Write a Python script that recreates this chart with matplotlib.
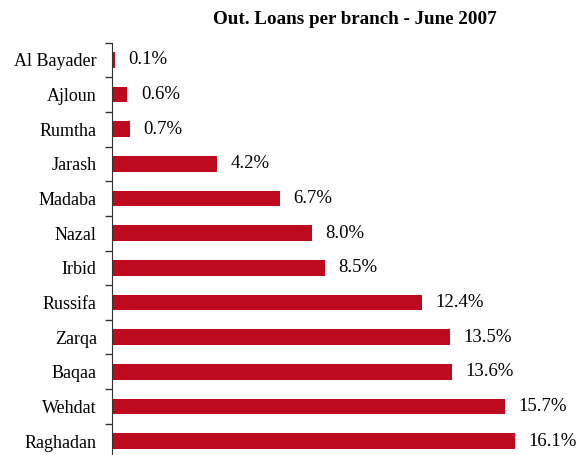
import numpy as np
import matplotlib.pyplot as plt

plt.rcParams['font.family'] = ['Liberation Serif', 'DejaVu Serif']

# Outstanding loan share per branch (%)
branches = ['Al Bayader', 'Ajloun', 'Rumtha', 'Jarash', 'Madaba', 'Nazal',
            'Irbid', 'Russifa', 'Zarqa', 'Baqaa', 'Wehdat', 'Raghadan']
shares = [0.1, 0.6, 0.7, 4.2, 6.7, 8.0, 8.5, 12.4, 13.5, 13.6, 15.7, 16.1]

fig = plt.figure(figsize=(5.79, 4.55), dpi=100)
ax = fig.add_axes([112 / 579, -0.0073, 450 / 579, 0.9135])

y = np.arange(len(branches))
ax.barh(y, shares, height=0.45, color='#BE0A1E')

for yi, v in zip(y, shares):
    ax.text(v + 0.55, yi, f'{v:.1f}%', va='center', ha='left', fontsize=13.5,
            clip_on=False)

ax.set_ylim(len(branches) - 0.5, -0.5)
ax.set_xlim(0, 18)
ax.set_yticks(y)
ax.set_yticklabels(branches, fontsize=13)
ax.set_yticks(np.arange(len(branches) + 1) - 0.5, minor=True)
ax.tick_params(axis='y', which='major', length=0, pad=11)
ax.tick_params(axis='y', which='minor', length=5, width=1, direction='out',
               color='#333333')
ax.set_xticks([])
for side in ['top', 'right', 'bottom']:
    ax.spines[side].set_visible(False)
ax.spines['left'].set_color('#333333')

fig.text(355 / 579, 1 - 20 / 455, 'Out. Loans per branch - June 2007',
         ha='center', va='center', fontsize=13.7, fontweight='bold')

fig.savefig('out.png', dpi=100)
